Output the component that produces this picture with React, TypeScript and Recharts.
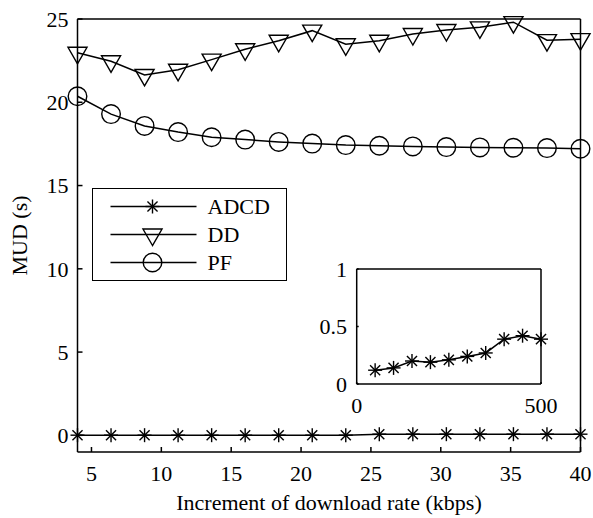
import React from 'react';
import { LineChart, Line, XAxis, YAxis, Legend, Label } from 'recharts';

const xValues = [4, 6.4, 8.8, 11.2, 13.6, 16, 18.4, 20.8, 23.2, 25.6, 28, 30.4, 32.8, 35.2, 37.6, 40];
const adcdValues = [0.01, 0.01, 0.01, 0.01, 0.01, 0.01, 0.01, 0.01, 0.01, 0.07, 0.07, 0.07, 0.07, 0.07, 0.07, 0.07];
const ddValues = [22.97, 22.46, 21.64, 21.95, 22.56, 23.18, 23.69, 24.3, 23.48, 23.69, 24.1, 24.34, 24.5, 24.81, 23.73, 23.79];
const pfValues = [20.36, 19.29, 18.58, 18.21, 17.9, 17.76, 17.62, 17.52, 17.43, 17.39, 17.35, 17.31, 17.29, 17.27, 17.25, 17.21];
const xTicks = [5, 10, 15, 20, 25, 30, 35, 40];
const yTicks = [0, 5, 10, 15, 20, 25];

const insetX = [50, 100, 150, 200, 250, 300, 350, 400, 450, 500];
const insetValues = [0.12, 0.14, 0.2, 0.19, 0.21, 0.24, 0.27, 0.39, 0.42, 0.39];
const insetXTicks = [0, 500];
const insetYTicks = [0, 0.5, 1];

const mainData = xValues.map((x, i) => ({ x, adcd: adcdValues[i], dd: ddValues[i], pf: pfValues[i] }));
const insetData = insetX.map((x, i) => ({ x, adcd: insetValues[i] }));

const FONT = '"Liberation Serif", "Times New Roman", serif';
const INK = '#000';
const SW = 1.5;
const tickStyle = { fontFamily: FONT, fontSize: 22, fill: INK };

function StarMark({ cx, cy, r = 7 }: { cx: number; cy: number; r?: number }) {
  const d = r * 0.72;
  return (
    <g stroke={INK} strokeWidth={1.4} fill="none">
      <line x1={cx - r} y1={cy} x2={cx + r} y2={cy} />
      <line x1={cx} y1={cy - r} x2={cx} y2={cy + r} />
      <line x1={cx - d} y1={cy - d} x2={cx + d} y2={cy + d} />
      <line x1={cx - d} y1={cy + d} x2={cx + d} y2={cy - d} />
    </g>
  );
}

function TriMark({ cx, cy, r = 11 }: { cx: number; cy: number; r?: number }) {
  const w = r * 0.866;
  const pts = `${cx},${cy + r} ${cx - w},${cy - r / 2} ${cx + w},${cy - r / 2}`;
  return <polygon points={pts} stroke={INK} strokeWidth={1.4} fill="none" strokeLinejoin="miter" />;
}

function CircMark({ cx, cy, r = 9.3 }: { cx: number; cy: number; r?: number }) {
  return <circle cx={cx} cy={cy} r={r} stroke={INK} strokeWidth={1.4} fill="none" />;
}

const starDot = (p: any) => (p.cx == null ? <g key={`s${p.index}`} /> : <g key={`s${p.index}`}><StarMark cx={p.cx} cy={p.cy} /></g>);
const triDot = (p: any) => (p.cx == null ? <g key={`t${p.index}`} /> : <g key={`t${p.index}`}><TriMark cx={p.cx} cy={p.cy} /></g>);
const circDot = (p: any) => (p.cx == null ? <g key={`c${p.index}`} /> : <g key={`c${p.index}`}><CircMark cx={p.cx} cy={p.cy} /></g>);

const renderLegend = (props: any) => {
  const payload = props.payload || [];
  return (
    <div
      style={{
        width: 195,
        height: 93,
        boxSizing: 'border-box',
        border: `${SW}px solid ${INK}`,
        background: '#fff',
      }}
    >
      <svg width={192} height={90} style={{ display: 'block' }}>
        {payload.map((entry: any, i: number) => {
          const cy = 17.5 + i * 28;
          const mx = 59.5;
          const key = entry.dataKey;
          return (
            <g key={key}>
              <line x1={17.5} y1={cy} x2={103.5} y2={cy} stroke={INK} strokeWidth={SW} />
              {key === 'adcd' && <StarMark cx={mx} cy={cy} />}
              {key === 'dd' && <TriMark cx={mx} cy={cy} />}
              {key === 'pf' && <CircMark cx={mx} cy={cy} />}
              <text x={114.5} y={cy} dy="0.34em" fontFamily={FONT} fontSize={22} fill={INK}>
                {entry.value}
              </text>
            </g>
          );
        })}
      </svg>
    </div>
  );
};

export default function App() {
  return (
    <div style={{ position: 'absolute', left: 0, top: 0, width: 593, height: 518, background: '#fff' }}>
      <div style={{ position: 'absolute', left: 0, top: 0 }}>
        <LineChart width={593} height={518} data={mainData} margin={{ top: 18, right: 11.5, bottom: 26, left: 17.5 }}>
          <XAxis
            xAxisId="bottom"
            dataKey="x"
            type="number"
            domain={[4, 40]}
            ticks={xTicks}
            interval={0}
            height={40}
            tickSize={-5}
            tickMargin={18}
            tick={tickStyle}
            axisLine={{ stroke: INK, strokeWidth: SW }}
            tickLine={{ stroke: INK, strokeWidth: SW }}
          >
            <Label
              content={(p: any) => {
                const vb = p.viewBox || {};
                return (
                  <text x={vb.x + vb.width / 2} y={vb.y + 58} textAnchor="middle" fontFamily={FONT} fontSize={22} fill={INK}>
                    Increment of download rate (kbps)
                  </text>
                );
              }}
            />
          </XAxis>
          <XAxis
            xAxisId="top"
            orientation="top"
            dataKey="x"
            type="number"
            domain={[4, 40]}
            ticks={xTicks}
            interval={0}
            height={1}
            tickSize={-5}
            tick={false}
            axisLine={{ stroke: INK, strokeWidth: SW }}
            tickLine={{ stroke: INK, strokeWidth: SW }}
          />
          <YAxis
            yAxisId="left"
            type="number"
            domain={[-1, 25]}
            ticks={yTicks}
            interval={0}
            width={60}
            tickSize={-5}
            tickMargin={14}
            tick={tickStyle}
            axisLine={{ stroke: INK, strokeWidth: SW }}
            tickLine={{ stroke: INK, strokeWidth: SW }}
          >
            <Label
              content={(p: any) => {
                const vb = p.viewBox || {};
                const x = vb.x + 9;
                const y = vb.y + vb.height / 2;
                return (
                  <text x={x} y={y} transform={`rotate(-90, ${x}, ${y})`} textAnchor="middle" fontFamily={FONT} fontSize={22} fill={INK}>
                    MUD (s)
                  </text>
                );
              }}
            />
          </YAxis>
          <YAxis
            yAxisId="right"
            orientation="right"
            type="number"
            domain={[-1, 25]}
            ticks={yTicks}
            interval={0}
            width={1}
            tickSize={-5}
            tick={false}
            axisLine={{ stroke: INK, strokeWidth: SW }}
            tickLine={{ stroke: INK, strokeWidth: SW }}
          />
          <Legend
            content={renderLegend}
            layout="vertical"
            align="center"
            verticalAlign="middle"
            wrapperStyle={{ left: 92, top: 188, width: 195, height: 93 }}
          />
          <Line
            xAxisId="bottom"
            yAxisId="left"
            dataKey="adcd"
            name="ADCD"
            type="linear"
            stroke={INK}
            strokeWidth={SW}
            dot={starDot}
            activeDot={false}
            isAnimationActive={false}
          />
          <Line
            xAxisId="bottom"
            yAxisId="left"
            dataKey="dd"
            name="DD"
            type="linear"
            stroke={INK}
            strokeWidth={SW}
            dot={triDot}
            activeDot={false}
            isAnimationActive={false}
          />
          <Line
            xAxisId="bottom"
            yAxisId="left"
            dataKey="pf"
            name="PF"
            type="linear"
            stroke={INK}
            strokeWidth={SW}
            dot={circDot}
            activeDot={false}
            isAnimationActive={false}
          />
        </LineChart>
      </div>
      <div style={{ position: 'absolute', left: 300, top: 250 }}>
        <LineChart width={280} height={170} data={insetData} margin={{ top: 18, right: 38, bottom: 6, left: 16.7 }}>
          <XAxis
            xAxisId="bottom"
            dataKey="x"
            type="number"
            domain={[0, 500]}
            ticks={insetXTicks}
            interval={0}
            height={30}
            tickSize={-2}
            tickMargin={15.5}
            tick={tickStyle}
            axisLine={{ stroke: INK, strokeWidth: SW }}
            tickLine={{ stroke: INK, strokeWidth: SW }}
          />
          <XAxis
            xAxisId="top"
            orientation="top"
            dataKey="x"
            type="number"
            domain={[0, 500]}
            ticks={insetXTicks}
            interval={0}
            height={1}
            tickSize={-2}
            tick={false}
            axisLine={{ stroke: INK, strokeWidth: SW }}
            tickLine={{ stroke: INK, strokeWidth: SW }}
          />
          <YAxis
            yAxisId="left"
            type="number"
            domain={[0, 1]}
            ticks={insetYTicks}
            interval={0}
            width={40}
            tickSize={-2}
            tickMargin={11.7}
            tick={tickStyle}
            axisLine={{ stroke: INK, strokeWidth: SW }}
            tickLine={{ stroke: INK, strokeWidth: SW }}
          />
          <YAxis
            yAxisId="right"
            orientation="right"
            type="number"
            domain={[0, 1]}
            ticks={insetYTicks}
            interval={0}
            width={1}
            tickSize={-2}
            tick={false}
            axisLine={{ stroke: INK, strokeWidth: SW }}
            tickLine={{ stroke: INK, strokeWidth: SW }}
          />
          <Line
            xAxisId="bottom"
            yAxisId="left"
            dataKey="adcd"
            name="ADCD"
            type="linear"
            stroke={INK}
            strokeWidth={SW}
            dot={starDot}
            activeDot={false}
            isAnimationActive={false}
          />
        </LineChart>
      </div>
    </div>
  );
}
